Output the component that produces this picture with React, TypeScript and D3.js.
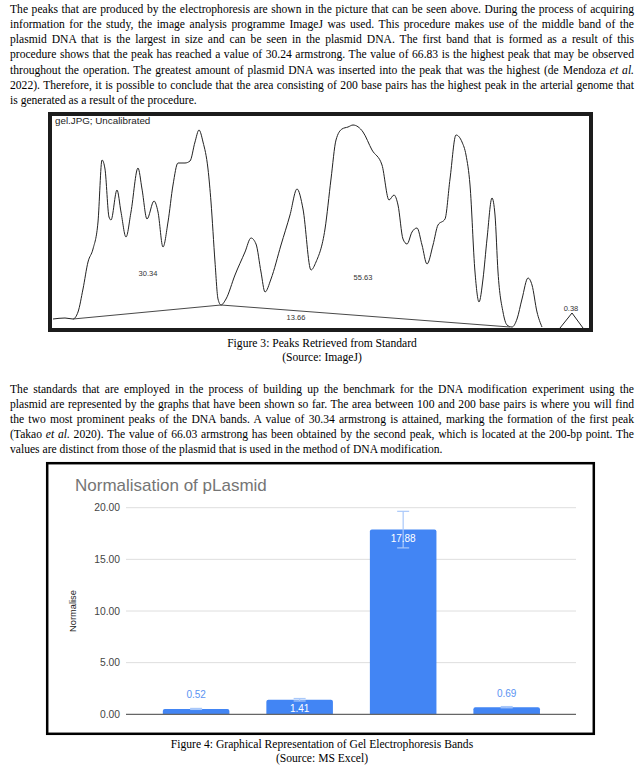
import * as d3 from "d3";
import { useLayoutEffect, useRef } from "react";

// body text, one entry per printed line; _..._ marks italics
const PARA_1 = [
  "The peaks that are produced by the electrophoresis are shown in the picture that can be seen above. During the process of acquiring",
  "information for the study, the image analysis programme ImageJ was used. This procedure makes use of the middle band of the",
  "plasmid DNA that is the largest in size and can be seen in the plasmid DNA. The first band that is formed as a result of this",
  "procedure shows that the peak has reached a value of 30.24 armstrong. The value of 66.83 is the highest peak that may be observed",
  "throughout the operation. The greatest amount of plasmid DNA was inserted into the peak that was the highest (de Mendoza _et al._",
  "2022). Therefore, it is possible to conclude that the area consisting of 200 base pairs has the highest peak in the arterial genome that",
  "is generated as a result of the procedure.",
];
const PARA_2 = [
  "The standards that are employed in the process of building up the benchmark for the DNA modification experiment using the",
  "plasmid are represented by the graphs that have been shown so far. The area between 100 and 200 base pairs is where you will find",
  "the two most prominent peaks of the DNA bands. A value of 30.34 armstrong is attained, marking the formation of the first peak",
  "(Takao _et al._ 2020). The value of 66.03 armstrong has been obtained by the second peak, which is located at the 200-bp point. The",
  "values are distinct from those of the plasmid that is used in the method of DNA modification.",
];
const CAPTION_3 = ["Figure 3: Peaks Retrieved from Standard", "(Source: ImageJ)"];
const CAPTION_4 = ["Figure 4: Graphical Representation of Gel Electrophoresis Bands", "(Source: MS Excel)"];

// ImageJ lane profile: [distance, intensity]
const PROFILE: [number, number][] = [
  [1, 9], [13, 10], [21, 9], [26, 16], [31, 39], [36, 66], [41, 79], [46, 106], [50, 168], [53, 159],
  [57, 111], [59, 108], [65, 138], [69, 116], [74, 91], [79, 116], [86, 160], [90, 139], [95, 109],
  [102, 127], [106, 116], [111, 81], [116, 106], [121, 143], [126, 165], [133, 165], [138, 167],
  [143, 186], [147, 198], [151, 186], [156, 159], [159, 126], [163, 66], [166, 29], [169, 23],
  [174, 29], [183, 53], [193, 76], [199, 90], [204, 84], [209, 56], [213, 36], [219, 49], [229, 83],
  [238, 113], [245, 139], [251, 119], [259, 58], [264, 66], [273, 99], [279, 149], [284, 188],
  [290, 199], [296, 201], [301, 203], [311, 196], [320, 178], [330, 163], [337, 128], [342, 133],
  [346, 123], [351, 89], [355, 84], [360, 96], [365, 100], [370, 83], [375, 64], [381, 83], [386, 103],
  [393, 109], [398, 149], [404, 193], [410, 186], [414, 173], [418, 143], [423, 56], [427, 26],
  [431, 49], [435, 89], [440, 130], [443, 113], [446, 56], [451, 16], [455, 3], [460, 1], [465, 9],
  [470, 29], [476, 50], [480, 43], [485, 16], [490, 1],
];
const LAST_PEAK: [number, number][] = [[508, 0], [520, 15], [531, 0]];
const PEAK_BASE: [number, number][] = [[21, 9], [169, 23], [458, 1]];
const PEAK_AREAS = ["30.34", "13.66", "55.63", "0.38"];
const PEAK_AREA_AT: [number, number][] = [[96, 52], [244, 8], [311, 48], [519, 17]];

// Normalisation chart
const BANDS = ["1", "2", "3", "4"];
const NORMALISED = [0.52, 1.41, 17.88, 0.69];
const ERRORS = [0.05, 0.12, 1.77, 0.06];
const Y_TICKS = [0, 5, 10, 15, 20];

const SERIF = "'Liberation Serif', 'Times New Roman', serif";
const SANS = "'Liberation Sans', Arial, sans-serif";
const BLUE = "#4285f4";

function Line({ text, x, y, justify }: { text: string; x: number; y: number; justify?: boolean }) {
  const parts = text.split("_");
  return (
    <text x={x} y={y} data-justify={justify ? 1 : undefined} fontFamily={SERIF} fontSize={11.6} fill="#000" style={{ whiteSpace: "pre" }}>
      {parts.map((p, i) => (
        <tspan key={i} fontStyle={i % 2 ? "italic" : undefined}>{p}</tspan>
      ))}
    </text>
  );
}

function Paragraph({ lines, top, step }: { lines: string[]; top: number; step: number }) {
  return (
    <g>
      {lines.map((l, i) => (
        <Line key={i} text={l} x={10} y={top + i * step} justify={i < lines.length - 1} />
      ))}
    </g>
  );
}

function Caption({ lines, top }: { lines: string[]; top: number }) {
  return (
    <g>
      {lines.map((l, i) => (
        <text key={i} x={322} y={top + i * 14.3} textAnchor="middle" fontFamily={SERIF} fontSize={11.6}>{l}</text>
      ))}
    </g>
  );
}

function GelProfile() {
  const x = d3.scaleLinear().domain([0, 536]).range([52, 588]);
  const y = d3.scaleLinear().domain([0, 212]).range([328, 116]);
  const curve = d3.line<[number, number]>().x((d) => x(d[0])).y((d) => y(d[1])).curve(d3.curveMonotoneX);
  const straight = d3.line<[number, number]>().x((d) => x(d[0])).y((d) => y(d[1]));
  return (
    <g>
      <defs>
        <clipPath id="gel-clip">
          <rect x={52} y={116} width={536} height={212} />
        </clipPath>
      </defs>
      <rect x={50} y={114} width={541} height={216} fill="#fff" stroke="#1c1c1c" strokeWidth={4} />
      <text x={55} y={124} fontFamily={SANS} fontSize={9.8} fill="#222">gel.JPG; Uncalibrated</text>
      <g clipPath="url(#gel-clip)">
        <path d={curve(PROFILE) ?? ""} fill="none" stroke="#222" strokeWidth={1} />
        <path d={straight(LAST_PEAK) ?? ""} fill="none" stroke="#222" strokeWidth={1} />
        <path d={straight(PEAK_BASE) ?? ""} fill="none" stroke="#333" strokeWidth={0.9} />
      </g>
      {PEAK_AREAS.map((t, i) => (
        <text key={t} x={x(PEAK_AREA_AT[i][0])} y={y(PEAK_AREA_AT[i][1])} textAnchor="middle" fontFamily={SANS} fontSize={7.5} fill="#333">{t}</text>
      ))}
    </g>
  );
}

function BarChart() {
  const left = 126;
  const right = 576;
  const x = d3.scaleBand().domain(BANDS).range([144.2, 558.6]).paddingInner(0.357).paddingOuter(0.18);
  const y = d3.scaleLinear().domain([0, 20]).range([714.3, 507.7]);
  const fmt = d3.format(".2f");
  const bw = x.bandwidth();
  return (
    <g>
      <rect x={47.2} y={463.2} width={546.6} height={270.6} fill="#fff" stroke="#000" strokeWidth={2.5} />
      <text x={75} y={491} fontFamily={SANS} fontSize={17} fill="#757575">Normalisation of pLasmid</text>
      {Y_TICKS.map((t) => (
        <g key={t}>
          {t > 0 && <line x1={left} x2={right} y1={y(t)} y2={y(t)} stroke="#dedede" strokeWidth={1} />}
          <text x={120} y={y(t) + 3.7} textAnchor="end" fontFamily={SANS} fontSize={10.3} fill="#444">{fmt(t)}</text>
        </g>
      ))}
      <text transform={`translate(75.5,${y(10)}) rotate(-90)`} textAnchor="middle" fontFamily={SANS} fontSize={9.3} fill="#222">Normalise</text>
      {NORMALISED.map((v, i) => {
        const x0 = x(BANDS[i]) ?? 0;
        const top = y(v);
        const h = y(0) - top;
        const r = Math.min(2, h / 2);
        const cx = x0 + bw / 2;
        const inside = h > 12;
        return (
          <g key={i}>
            <path
              d={`M${x0},${y(0)}V${top + r}Q${x0},${top} ${x0 + r},${top}H${x0 + bw - r}Q${x0 + bw},${top} ${x0 + bw},${top + r}V${y(0)}Z`}
              fill={BLUE}
            />
            <g stroke="#a9c8fa" strokeWidth={1.2}>
              <line x1={cx} x2={cx} y1={y(v + ERRORS[i])} y2={y(v - ERRORS[i])} />
              <line x1={cx - 6} x2={cx + 6} y1={y(v + ERRORS[i])} y2={y(v + ERRORS[i])} />
              <line x1={cx - 6} x2={cx + 6} y1={y(v - ERRORS[i])} y2={y(v - ERRORS[i])} />
            </g>
            <text
              x={cx}
              y={inside ? top + 12.7 : top - 10.5}
              textAnchor="middle"
              fontFamily={SANS}
              fontSize={10}
              fill={inside ? "#fff" : "#5b93f2"}
            >
              {fmt(v)}
            </text>
          </g>
        );
      })}
      <line x1={left} x2={right} y1={y(0)} y2={y(0)} stroke="#666" strokeWidth={1.2} />
    </g>
  );
}

export default function App() {
  const ref = useRef<SVGSVGElement>(null);

  // stretch the word gaps so each full line runs to the right margin
  useLayoutEffect(() => {
    if (!ref.current) return;
    d3.select(ref.current)
      .selectAll<SVGTextElement, unknown>("text[data-justify]")
      .each(function () {
        const el = this;
        el.setAttribute("word-spacing", "0");
        const w = el.getComputedTextLength();
        const spaces = (el.textContent ?? "").split(" ").length - 1;
        if (spaces > 0) el.setAttribute("word-spacing", String((624 - w) / spaces));
      });
  }, []);

  return (
    <svg ref={ref} width={644} height={776} style={{ position: "absolute", left: 0, top: 0, background: "#fff" }}>
      <rect width={644} height={776} fill="#fff" />
      <Paragraph lines={PARA_1} top={12.5} step={15.3} />
      <GelProfile />
      <Caption lines={CAPTION_3} top={347} />
      <Paragraph lines={PARA_2} top={392.5} step={15} />
      <BarChart />
      <Caption lines={CAPTION_4} top={748} />
    </svg>
  );
}
